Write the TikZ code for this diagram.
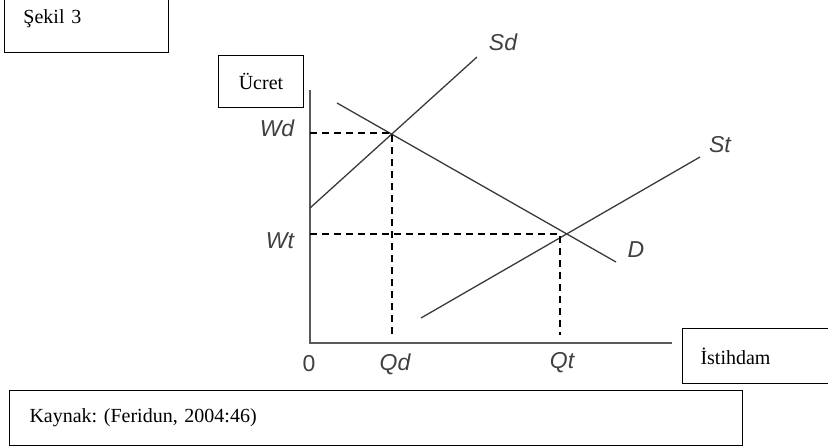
\documentclass[tikz,border=0pt]{standalone}
\usepackage{fontspec}
\setmainfont{Liberation Serif}
\newfontfamily\axisfont{Liberation Sans}
\usepackage{xcolor}
\usepackage{tikz}
\usetikzlibrary{calc}
\frenchspacing
\definecolor{ink}{HTML}{000000}
\definecolor{curve}{HTML}{3A3A3A}
\definecolor{axis}{HTML}{5A5A5A}
\definecolor{labgray}{HTML}{404040}
\tikzset{
  lab/.style={text=labgray, font=\axisfont\itshape\fontsize{23}{26}\selectfont, inner sep=0pt},
  boxLab/.style={draw=ink, line width=1pt, rectangle, inner sep=0pt, align=left, font=\fontsize{20}{24}\selectfont, text=ink},
  axisLine/.style={line width=2pt, draw=axis},
  curveLine/.style={line width=1.3pt, draw=curve},
  guideLine/.style={line width=1.6pt, draw=ink, dash pattern=on 7pt off 5pt}
}
\begin{document}
\begin{tikzpicture}[x=1pt, y=-1pt]
\useasboundingbox (0,0) rectangle (828,447);
\coordinate (ytop) at (310,90);
\coordinate (O) at (310,343);
\coordinate (xend) at (672,343);
\coordinate (sdA) at (310,208);
\coordinate (sdB) at (477,57);
\coordinate (dA) at (337,103);
\coordinate (dB) at (616,262);
\coordinate (stA) at (421,318);
\coordinate (stB) at (700,157);
% equilibrium points
\coordinate (Ed) at (392,133);
\coordinate (Et) at (560,234);
\coordinate (Wd) at (310,133);
\coordinate (Wt) at (310,234);
\coordinate (Qd) at (392,335);
\coordinate (Qt) at (560,335);

% boxes
\node[boxLab, anchor=north west, minimum width=164pt, minimum height=68pt, text width=164pt] (sekil) at (4,-16) {\hspace*{19pt}Şekil 3};
\node[boxLab, anchor=north west, minimum width=85pt, minimum height=52pt, align=center] (ucret) at (218,55) {Ücret};
\node[boxLab, anchor=north west, minimum width=150pt, minimum height=55pt, text width=150pt] (istihdam) at (682,328) {\hspace*{18pt}İstihdam};
\node[boxLab, anchor=north west, minimum width=733pt, minimum height=55pt, text width=733pt] (kaynak) at (9,390) {\hspace*{20pt}Kaynak: (Feridun, 2004:46)};

% axes and lines
\draw[axisLine] (ytop) -- (O) -- (xend);
\draw[curveLine] (sdA) -- (sdB);
\draw[curveLine] (dA) -- (dB);
\draw[curveLine] (stA) -- (stB);
\draw[guideLine] (Wd) -- (Ed) -- (Qd);
\draw[guideLine] (Wt) -- (Et) -- (Qt);

% labels
\node[lab] (sdlab) at (503,42) {Sd};
\node[lab] (stlab) at (720,145) {St};
\node[lab] (dlab) at (636,250) {D};
\node[lab] (wdlab) at (277,128) {Wd};
\node[lab] (wtlab) at (280,241) {Wt};
\node[lab, font=\axisfont\fontsize{23}{26}\selectfont] (zero) at (309,364) {0};
\node[lab] (qdlab) at (395,364) {Qd};
\node[lab] (qtlab) at (562,363) {Qt};
\end{tikzpicture}
\end{document}
